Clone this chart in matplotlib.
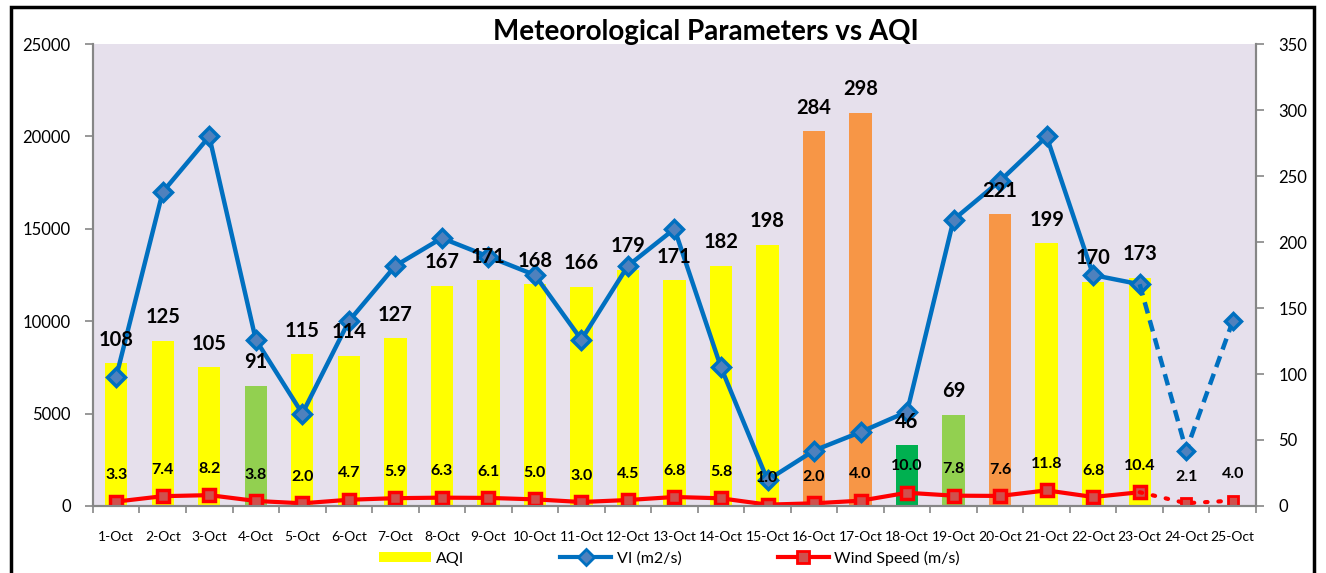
import numpy as np
import matplotlib
matplotlib.use("Agg")
import matplotlib.pyplot as plt
from matplotlib.patches import Patch, Rectangle
from matplotlib.lines import Line2D

plt.rcParams["font.family"] = ["Lato", "DejaVu Sans"]

days = [f"{d}-Oct" for d in range(1, 26)]
aqi = [108, 125, 105, 91, 115, 114, 127, 167, 171, 168, 166, 179, 171, 182, 198,
       284, 298, 46, 69, 221, 199, 170, 173]
vi = [7000, 17000, 20000, 9000, 5000, 10000, 13000, 14500, 13500, 12500, 9000, 13000,
      15000, 7500, 1400, 3000, 4000, 5100, 15500, 17600, 20000, 12500, 12000, 3000, 10000]
wind = [3.3, 7.4, 8.2, 3.8, 2.0, 4.7, 5.9, 6.3, 6.1, 5.0, 3.0, 4.5, 6.8, 5.8, 1.0,
        2.0, 4.0, 10.0, 7.8, 7.6, 11.8, 6.8, 10.4, 2.1, 4.0]
n_solid = 23  # 1-Oct .. 23-Oct drawn solid, forecast days dashed


def aqi_colour(v):
    if v <= 50:
        return "#00B050"
    if v <= 100:
        return "#92D050"
    if v <= 200:
        return "#FFFF00"
    return "#F79646"


blue = "#0070C0"
red = "#FF0000"
axis_grey = "#868686"

fig = plt.figure(figsize=(13.26, 5.73), dpi=100)
ax = fig.add_axes([0.0701, 0.117, 0.8771, 0.806])
ax2 = ax.twinx()
ax.set_zorder(ax2.get_zorder() + 1)
ax.patch.set_visible(False)
ax2.patch.set_visible(True)
ax2.patch.set_facecolor("#E6E0EC")

x = np.arange(len(days))
xa = np.arange(len(aqi))

# AQI bars and wind speed on the right axis
ax2.bar(xa, aqi, width=0.48, color=[aqi_colour(v) for v in aqi], zorder=1)
ax2.plot(x[:n_solid], wind[:n_solid], color=red, lw=3, marker="s", ms=8,
         mfc="#D0504D", mec=red, mew=2.5, zorder=2)
ax2.plot(x[n_solid - 1:], wind[n_solid - 1:], color=red, lw=3, ls=(0, (0.6, 2.6)),
         dash_capstyle="round", zorder=2)
ax2.plot(x[n_solid:], wind[n_solid:], ls="none", marker="s", ms=7,
         mfc="#D0504D", mec=red, mew=2, zorder=2)

# VI on the left axis
ax.plot(x[:n_solid], vi[:n_solid], color=blue, lw=3.2, marker="D", ms=9,
        mfc="#4F81BD", mec=blue, mew=2.5, zorder=3)
ax.plot(x[n_solid - 1:], vi[n_solid - 1:], color=blue, lw=3.2, ls=(0, (2.6, 1.6)),
        zorder=3)
ax.plot(x[n_solid:], vi[n_solid:], ls="none", marker="D", ms=8,
        mfc="#4F81BD", mec=blue, mew=2.5, zorder=3)

# data labels
for i, v in enumerate(aqi):
    ax.annotate(str(v), xy=(i, v), xycoords=ax2.transData, xytext=(0, 17),
                textcoords="offset points", ha="center", va="center",
                fontsize=14.5, fontweight="bold", zorder=5)
for i, v in enumerate(wind):
    ax.annotate(f"{v:.1f}", xy=(i, v), xycoords=ax2.transData, xytext=(0, 19),
                textcoords="offset points", ha="center", va="center",
                fontsize=11.5, fontweight="bold", zorder=5)

ax.set_xlim(-0.5, len(days) - 0.5)
ax.set_ylim(0, 25000)
ax2.set_ylim(0, 350)
ax.set_yticks(np.arange(0, 25001, 5000))
ax2.set_yticks(np.arange(0, 351, 50))

ax.set_xticks(x)
ax.set_xticklabels(days, fontsize=10)
ax.set_xticks(np.arange(-0.5, len(days), 1), minor=True)
ax.tick_params(axis="x", which="major", length=0, pad=18)
ax.tick_params(axis="x", which="minor", length=5, width=1.2, color=axis_grey)
ax.tick_params(axis="y", length=6, width=1.2, color=axis_grey, labelsize=12, pad=10)
ax2.tick_params(axis="y", length=6, width=1.2, color=axis_grey, labelsize=12, pad=10)

for a in (ax, ax2):
    a.spines["top"].set_visible(False)
    for s in ("left", "right", "bottom"):
        a.spines[s].set_color(axis_grey)
        a.spines[s].set_linewidth(1.5)

fig.text(0.532, 0.944, "Meteorological Parameters vs AQI", ha="center", va="center",
         fontsize=20, fontweight="bold")

handles = [
    Patch(facecolor="#FFFF00", edgecolor="none"),
    Line2D([], [], color=blue, lw=3, marker="D", ms=8, mfc="#4F81BD", mec=blue, mew=2),
    Line2D([], [], color=red, lw=3, marker="s", ms=8, mfc="#D0504D", mec=red, mew=2),
]
fig.legend(handles, ["AQI", "VI (m2/s)", "Wind Speed (m/s)"], loc="center",
           bbox_to_anchor=(0.505, 0.026), ncol=3, frameon=False, fontsize=11.5,
           handlelength=3.2, handleheight=0.6, handletextpad=0.35, columnspacing=6.0)

fig.patches.append(Rectangle((0.008, -0.05), 0.983, 1.038, transform=fig.transFigure,
                             fill=False, edgecolor="black", linewidth=2.5))

fig.savefig("out.png", dpi=100)
